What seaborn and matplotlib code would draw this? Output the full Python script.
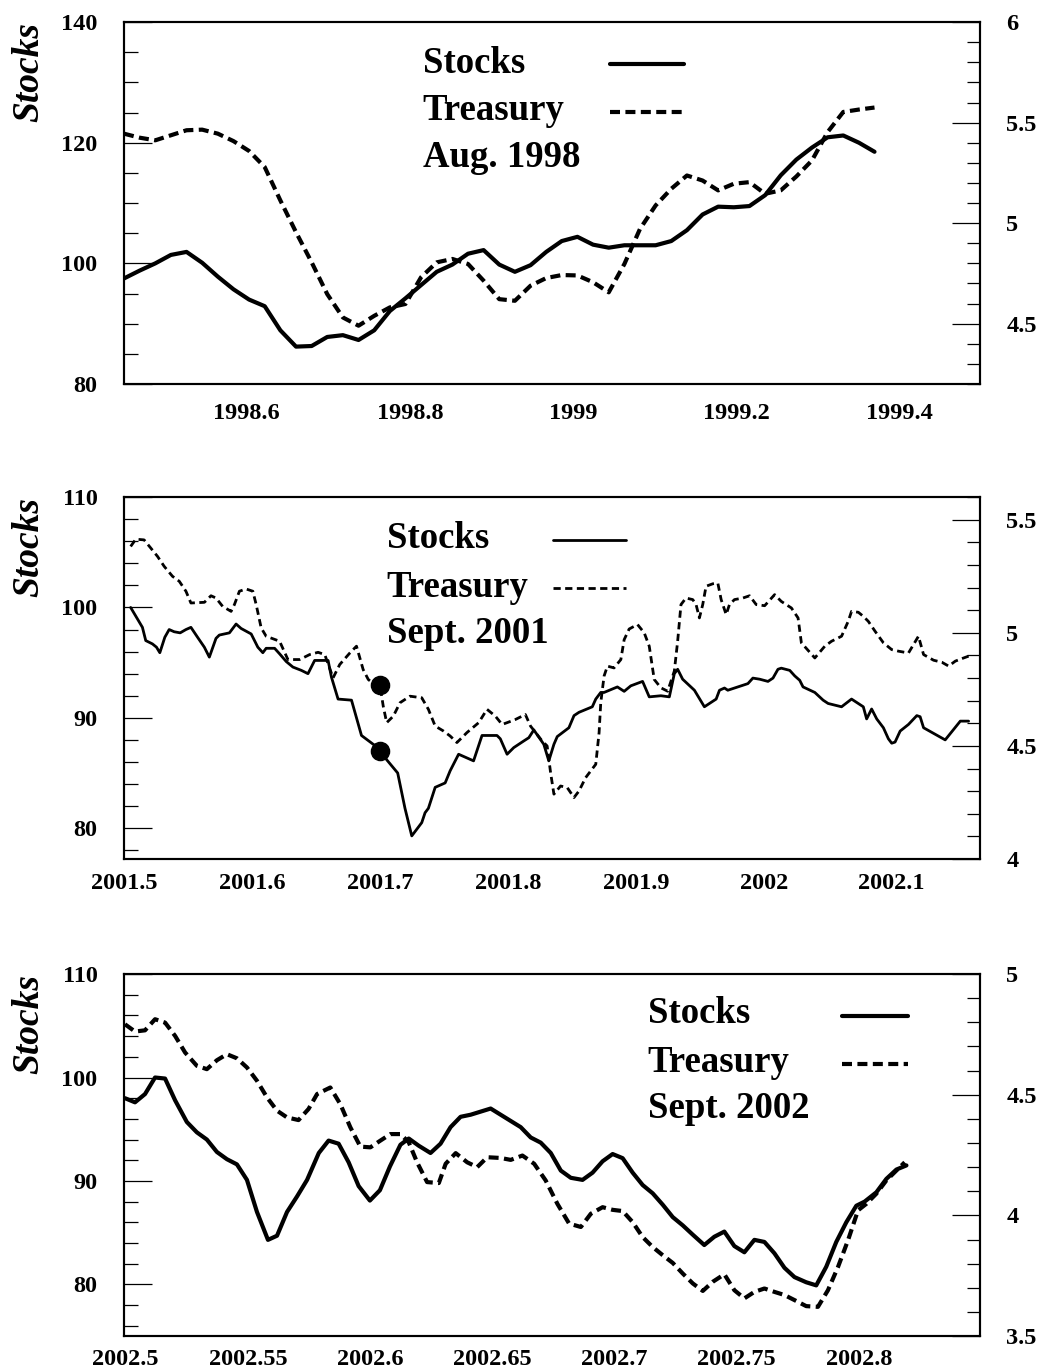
import matplotlib
matplotlib.use('Agg')
import matplotlib.pyplot as plt
from matplotlib.ticker import MultipleLocator, FuncFormatter
import seaborn as sns

# ---- Aug. 1998 (weekly) ----
aug98_x = [1998.4494, 1998.4686, 1998.4878, 1998.5069, 1998.5261, 1998.5453, 1998.5645,
           1998.5837, 1998.6028, 1998.6220, 1998.6412, 1998.6604, 1998.6796, 1998.6987,
           1998.7179, 1998.7371, 1998.7563, 1998.7755, 1998.7946, 1998.8138, 1998.8330,
           1998.8522, 1998.8714, 1998.8905, 1998.9097, 1998.9289, 1998.9481, 1998.9673,
           1998.9864, 1999.0056, 1999.0248, 1999.0440, 1999.0632, 1999.0823, 1999.1015,
           1999.1207, 1999.1399, 1999.1591, 1999.1782, 1999.1974, 1999.2166, 1999.2358,
           1999.2550, 1999.2741, 1999.2933, 1999.3125, 1999.3317, 1999.3509, 1999.3700]
aug98_stocks = [97.5, 98.8, 100.0, 101.4, 101.9, 100.1, 97.8, 95.7, 94.0, 92.9, 88.9, 86.2,
                86.3, 87.8, 88.1, 87.3, 88.9, 92.1, 94.2, 96.4, 98.6, 99.8, 101.6, 102.2,
                99.8, 98.6, 99.7, 101.9, 103.7, 104.4, 103.1, 102.6, 103.0, 103.0, 103.0,
                103.7, 105.5, 108.1, 109.4, 109.3, 109.5, 111.3, 114.6, 117.2, 119.2, 120.9,
                121.2, 120.0, 118.5]
aug98_treasury = [5.445, 5.425, 5.412, 5.437, 5.462, 5.465, 5.445, 5.408, 5.359, 5.279, 5.113,
                  4.955, 4.805, 4.647, 4.531, 4.49, 4.539, 4.581, 4.598, 4.731, 4.805, 4.822,
                  4.797, 4.714, 4.622, 4.614, 4.689, 4.727, 4.742, 4.74, 4.706, 4.656, 4.797,
                  4.971, 5.088, 5.171, 5.237, 5.212, 5.163, 5.196, 5.204, 5.146, 5.163, 5.232,
                  5.312, 5.453, 5.553, 5.565, 5.575]

# ---- Sept. 2001 (daily) ----
sep01_stock_x = [2001.5052, 2001.5144, 2001.5170, 2001.5222, 2001.5254, 2001.5280, 2001.5319,
                 2001.5353, 2001.5392, 2001.5439, 2001.5484, 2001.5523, 2001.5575, 2001.5628,
                 2001.5667, 2001.5719, 2001.5745, 2001.5824, 2001.5850, 2001.5876, 2001.5915,
                 2001.5994, 2001.6046, 2001.6085, 2001.6111, 2001.6177, 2001.6216, 2001.6268,
                 2001.6320, 2001.6386, 2001.6438, 2001.6490, 2001.6530, 2001.6595, 2001.6621,
                 2001.6673, 2001.6778, 2001.6817, 2001.6856, 2001.6948, 2001.7000, 2001.7053,
                 2001.7139, 2001.7196, 2001.7249, 2001.7327, 2001.7353, 2001.7379, 2001.7432,
                 2001.7510, 2001.7549, 2001.7615, 2001.7732, 2001.7798, 2001.7915, 2001.7941,
                 2001.7994, 2001.8046, 2001.8124, 2001.8164, 2001.8203, 2001.8281, 2001.8320,
                 2001.8360, 2001.8386, 2001.8477, 2001.8517, 2001.8556, 2001.8660, 2001.8687,
                 2001.8726, 2001.8752, 2001.8856, 2001.8909, 2001.8961, 2001.9053, 2001.9105,
                 2001.9196, 2001.9262, 2001.9301, 2001.9327, 2001.9366, 2001.9458, 2001.9536,
                 2001.9628, 2001.9654, 2001.9693, 2001.9719, 2001.9876, 2001.9915, 2001.9968,
                 2002.0033, 2002.0072, 2002.0111, 2002.0137, 2002.0203, 2002.0242, 2002.0281,
                 2002.0307, 2002.0399, 2002.0464, 2002.0503, 2002.0608, 2002.0686, 2002.0778,
                 2002.0804, 2002.0843, 2002.0883, 2002.0935, 2002.0974, 2002.1000, 2002.1026,
                 2002.1066, 2002.1131, 2002.1196, 2002.1222, 2002.1249, 2002.1418, 2002.1536,
                 2002.1601]
sep01_stocks = [100.0, 98.2, 97.0, 96.7, 96.4, 95.9, 97.3, 98.0, 97.8, 97.7, 98.0, 98.2, 97.3,
                96.4, 95.5, 97.2, 97.5, 97.7, 98.1, 98.5, 98.1, 97.6, 96.4, 95.9, 96.3, 96.3,
                95.8, 95.1, 94.6, 94.3, 94.0, 95.2, 95.2, 95.2, 93.7, 91.7, 91.6, 90.0, 88.4,
                87.6, 87.2, 86.2, 85.0, 81.8, 79.3, 80.5, 81.4, 81.8, 83.7, 84.1, 85.2, 86.7,
                86.1, 88.4, 88.4, 88.1, 86.7, 87.3, 87.9, 88.2, 88.9, 87.6, 86.1, 87.6, 88.3,
                89.1, 90.2, 90.5, 91.0, 91.7, 92.3, 92.3, 92.8, 92.4, 92.9, 93.3, 91.9, 92.0,
                91.9, 94.0, 94.4, 93.5, 92.5, 91.0, 91.7, 92.5, 92.7, 92.5, 93.1, 93.6, 93.5,
                93.3, 93.6, 94.4, 94.5, 94.3, 93.8, 93.4, 92.8, 92.3, 91.6, 91.3, 91.0, 91.7,
                91.0, 89.9, 90.8, 89.9, 89.1, 88.1, 87.7, 87.8, 88.8, 89.4, 90.2, 90.1, 89.1,
                88.0, 89.7, 89.7]
sep01_treasury_x = [2001.5052, 2001.5092, 2001.5157, 2001.5209, 2001.5262, 2001.5314, 2001.5379,
                    2001.5432, 2001.5484, 2001.5523, 2001.5628, 2001.5680, 2001.5719, 2001.5771,
                    2001.5837, 2001.5863, 2001.5902, 2001.5954, 2001.6007, 2001.6033, 2001.6072,
                    2001.6111, 2001.6216, 2001.6281, 2001.6373, 2001.6451, 2001.6517, 2001.6569,
                    2001.6634, 2001.6686, 2001.6765, 2001.6817, 2001.6869, 2001.6909, 2001.6974,
                    2001.7000, 2001.7026, 2001.7053, 2001.7105, 2001.7157, 2001.7235, 2001.7327,
                    2001.7379, 2001.7432, 2001.7497, 2001.7549, 2001.7602, 2001.7680, 2001.7772,
                    2001.7837, 2001.7902, 2001.7955, 2001.7994, 2001.8059, 2001.8137, 2001.8177,
                    2001.8268, 2001.8307, 2001.8334, 2001.8360, 2001.8412, 2001.8464, 2001.8517,
                    2001.8556, 2001.8608, 2001.8687, 2001.8713, 2001.8726, 2001.8752, 2001.8778,
                    2001.8830, 2001.8883, 2001.8909, 2001.8948, 2001.9013, 2001.9066, 2001.9105,
                    2001.9144, 2001.9196, 2001.9249, 2001.9301, 2001.9327, 2001.9353, 2001.9392,
                    2001.9445, 2001.9471, 2001.9497, 2001.9523, 2001.9549, 2001.9602, 2001.9641,
                    2001.9667, 2001.9706, 2001.9732, 2001.9771, 2001.9837, 2001.9889, 2001.9941,
                    2002.0007, 2002.0085, 2002.0137, 2002.0216, 2002.0268, 2002.0294, 2002.0399,
                    2002.0477, 2002.0530, 2002.0608, 2002.0660, 2002.0686, 2002.0739, 2002.0778,
                    2002.0817, 2002.0870, 2002.0935, 2002.1000, 2002.1053, 2002.1131, 2002.1209,
                    2002.1249, 2002.1327, 2002.1392, 2002.1445, 2002.1497, 2002.1562, 2002.1601]
sep01_treasury = [5.382, 5.414, 5.411, 5.375, 5.338, 5.294, 5.25, 5.228, 5.184, 5.132, 5.135,
                  5.164, 5.154, 5.117, 5.095, 5.125, 5.184, 5.194, 5.184, 5.125, 5.022, 4.985,
                  4.963, 4.882, 4.882, 4.904, 4.914, 4.904, 4.801, 4.86, 4.911, 4.941, 4.838,
                  4.794, 4.764, 4.77, 4.676, 4.603, 4.632, 4.691, 4.72, 4.713, 4.662, 4.588,
                  4.566, 4.544, 4.515, 4.559, 4.603, 4.662, 4.632, 4.595, 4.603, 4.617, 4.639,
                  4.588, 4.522, 4.5, 4.382, 4.287, 4.323, 4.316, 4.272, 4.301, 4.36, 4.419,
                  4.559, 4.691, 4.809, 4.853, 4.845, 4.882, 4.97, 5.017, 5.037, 5.0, 4.941,
                  4.794, 4.757, 4.742, 4.831, 4.963, 5.125, 5.154, 5.147, 5.125, 5.066, 5.125,
                  5.206, 5.217, 5.22, 5.147, 5.081, 5.125, 5.147, 5.154, 5.164, 5.125, 5.12,
                  5.169, 5.139, 5.11, 5.066, 4.956, 4.889, 4.941, 4.963, 4.985, 5.051, 5.095,
                  5.091, 5.073, 5.051, 5.007, 4.956, 4.926, 4.919, 4.911, 4.985, 4.904, 4.879,
                  4.87, 4.853, 4.875, 4.889, 4.897]
sep01_event_x = [2001.7, 2001.7]
sep01_event_y = [93.0, 87.0]

# ---- Sept. 2002 (daily) ----
sep02_stock_x = [2002.4997, 2002.5038, 2002.5079, 2002.5120, 2002.5161, 2002.5202, 2002.5250,
                 2002.5291, 2002.5332, 2002.5373, 2002.5414, 2002.5455, 2002.5496, 2002.5537,
                 2002.5582, 2002.5619, 2002.5660, 2002.5701, 2002.5742, 2002.5790, 2002.5830,
                 2002.5871, 2002.5912, 2002.5953, 2002.5999, 2002.6040, 2002.6081, 2002.6124,
                 2002.6158, 2002.6199, 2002.6247, 2002.6288, 2002.6329, 2002.6370, 2002.6411,
                 2002.6452, 2002.6493, 2002.6534, 2002.6575, 2002.6616, 2002.6657, 2002.6698,
                 2002.6739, 2002.6780, 2002.6821, 2002.6869, 2002.6910, 2002.6951, 2002.6992,
                 2002.7033, 2002.7074, 2002.7115, 2002.7156, 2002.7197, 2002.7238, 2002.7279,
                 2002.7320, 2002.7367, 2002.7408, 2002.7449, 2002.7490, 2002.7531, 2002.7572,
                 2002.7613, 2002.7654, 2002.7695, 2002.7736, 2002.7784, 2002.7825, 2002.7866,
                 2002.7907, 2002.7948, 2002.7989, 2002.8023, 2002.8071, 2002.8112, 2002.8153,
                 2002.8194]
sep02_stocks = [98.0, 97.6, 98.4, 100.0, 99.9, 97.8, 95.7, 94.7, 94.0, 92.8, 92.1, 91.6, 90.1,
                87.0, 84.3, 84.7, 87.0, 88.5, 90.1, 92.7, 93.9, 93.6, 91.8, 89.5, 88.1, 89.1,
                91.4, 93.5, 94.1, 93.4, 92.7, 93.6, 95.2, 96.2, 96.4, 96.7, 97.0, 96.4, 95.8,
                95.2, 94.2, 93.7, 92.7, 91.0, 90.3, 90.1, 90.8, 91.9, 92.6, 92.2, 90.8, 89.6,
                88.8, 87.7, 86.5, 85.7, 84.8, 83.8, 84.6, 85.1, 83.7, 83.1, 84.3, 84.1, 83.0,
                81.6, 80.7, 80.2, 79.9, 81.7, 84.1, 86.0, 87.6, 88.0, 88.9, 90.2, 91.1, 91.5]
sep02_treasury_x = [2002.4997, 2002.5038, 2002.5079, 2002.5120, 2002.5161, 2002.5202, 2002.5243,
                    2002.5291, 2002.5332, 2002.5373, 2002.5414, 2002.5455, 2002.5496, 2002.5537,
                    2002.5578, 2002.5619, 2002.5660, 2002.5707, 2002.5748, 2002.5783, 2002.5837,
                    2002.5878, 2002.5919, 2002.5960, 2002.6001, 2002.6042, 2002.6083, 2002.6124,
                    2002.6158, 2002.6192, 2002.6233, 2002.6281, 2002.6309, 2002.6350, 2002.6397,
                    2002.6438, 2002.6479, 2002.6534, 2002.6575, 2002.6623, 2002.6671, 2002.6718,
                    2002.6766, 2002.6814, 2002.6862, 2002.6903, 2002.6951, 2002.6992, 2002.7033,
                    2002.7074, 2002.7115, 2002.7156, 2002.7197, 2002.7238, 2002.7279, 2002.7320,
                    2002.7361, 2002.7402, 2002.7449, 2002.7490, 2002.7531, 2002.7572, 2002.7613,
                    2002.7654, 2002.7695, 2002.7736, 2002.7784, 2002.7832, 2002.7873, 2002.7914,
                    2002.7955, 2002.7996, 2002.8030, 2002.8071, 2002.8112, 2002.8153, 2002.8187]
sep02_treasury = [4.792, 4.762, 4.767, 4.813, 4.799, 4.744, 4.675, 4.62, 4.606, 4.643, 4.668,
                  4.651, 4.613, 4.558, 4.489, 4.434, 4.406, 4.395, 4.441, 4.503, 4.53, 4.461,
                  4.365, 4.285, 4.282, 4.31, 4.337, 4.337, 4.303, 4.22, 4.138, 4.134, 4.214,
                  4.258, 4.22, 4.2, 4.241, 4.238, 4.23, 4.248, 4.214, 4.145, 4.048, 3.966,
                  3.952, 4.007, 4.034, 4.023, 4.018, 3.972, 3.91, 3.869, 3.835, 3.803, 3.759,
                  3.718, 3.687, 3.725, 3.756, 3.69, 3.656, 3.683, 3.697, 3.683, 3.67, 3.649,
                  3.624, 3.621, 3.69, 3.786, 3.897, 4.021, 4.048, 4.09, 4.145, 4.186, 4.22]

legend_labels = ['Stocks', 'Treasury']

FONT = 26.5
TICKFONT = 17.5


def fmt(v, pos):
    return f'{v:g}'


def draw_panel(fig, rect, p):
    ax = fig.add_axes(rect)
    ax2 = ax.twinx()

    sns.lineplot(x=p['sx'], y=p['sy'], ax=ax, color='black', linewidth=p['lw'],
                 estimator=None, sort=False)
    sns.lineplot(x=p['tx'], y=p['ty'], ax=ax2, color='black', linewidth=p['lw'],
                 linestyle=(0, p['dash']), estimator=None, sort=False)
    if 'ex' in p:
        sns.scatterplot(x=p['ex'], y=p['ey'], ax=ax, color='black', s=170,
                        edgecolor='black', zorder=5)

    ax.set_xlim(p['xlim'])
    ax.set_ylim(p['ylim'])
    ax2.set_ylim(p['ylim2'])

    ax.xaxis.set_major_locator(MultipleLocator(p['xmaj']))
    ax.xaxis.set_minor_locator(MultipleLocator(p['xmin']))
    ax.yaxis.set_major_locator(MultipleLocator(p['ymaj']))
    ax.yaxis.set_minor_locator(MultipleLocator(p['ymin']))
    ax2.yaxis.set_major_locator(MultipleLocator(0.5))
    ax2.yaxis.set_minor_locator(MultipleLocator(0.1))
    for a in (ax.xaxis, ax.yaxis, ax2.yaxis):
        a.set_major_formatter(FuncFormatter(fmt))

    ax.tick_params(which='both', direction='in', top=False, right=False, width=0.9,
                   color='black')
    ax.tick_params(which='major', length=20, labelsize=TICKFONT)
    ax.tick_params(which='minor', length=10)
    ax.tick_params(axis='y', which='major', pad=19)
    ax.tick_params(axis='x', which='major', pad=p['xpad'])
    ax2.tick_params(axis='y', which='both', direction='in', left=False, right=True,
                    width=0.9, color='black')
    ax2.tick_params(axis='y', which='major', length=20, pad=19, labelsize=TICKFONT)
    ax2.tick_params(axis='y', which='minor', length=9.5)

    ax.set_xlabel('')
    ax2.set_ylabel('')
    ax.set_ylabel('Stocks', loc='top', fontsize=27, fontstyle='italic',
                  fontweight='bold', labelpad=11)

    for sp in ax.spines.values():
        sp.set_linewidth(1.5)
        sp.set_color('black')
    for sp in ax2.spines.values():
        sp.set_linewidth(1.5)
        sp.set_color('black')

    handles = [ax.get_lines()[0], ax2.get_lines()[0]]
    ax2.legend(handles, ['', ''], loc='center left', bbox_to_anchor=p['leg_anchor'],
               frameon=False, fontsize=FONT, handlelength=p['hl'], handletextpad=0,
               borderpad=0, borderaxespad=0, labelspacing=0.35)
    texts = legend_labels + [p['title']]
    for t, yy in zip(texts, p['text_y']):
        ax2.text(p['text_x'], yy, t, transform=ax2.transAxes, fontsize=FONT,
                 fontweight='bold', ha='left', va='baseline')


def main():
    sns.set_theme(style='white')
    plt.rcParams['font.family'] = ['Liberation Serif', 'DejaVu Serif']
    plt.rcParams['font.weight'] = 'bold'
    plt.rcParams.update({'text.color': 'black', 'axes.labelcolor': 'black',
                         'xtick.color': 'black', 'ytick.color': 'black'})

    fig = plt.figure(figsize=(10.42, 13.71), dpi=100)

    panels = [
        dict(sx=aug98_x, sy=aug98_stocks, tx=aug98_x, ty=aug98_treasury,
             lw=3.0, dash=(2.4, 1.3), xlim=(1998.4494, 1999.4994), ylim=(80, 140),
             ylim2=(4.2, 6.0), xmaj=0.2, xmin=0.2 / 3, ymaj=20, ymin=5, xpad=14,
             title='Aug. 1998', text_x=0.349, text_y=[0.859, 0.729, 0.599],
             leg_anchor=(0.568, 0.808), hl=2.0),
        dict(sx=sep01_stock_x, sy=sep01_stocks, tx=sep01_treasury_x, ty=sep01_treasury,
             ex=sep01_event_x, ey=sep01_event_y,
             lw=2.0, dash=(2.6, 1.6), xlim=(2001.5, 2002.169), ylim=(77.2, 110),
             ylim2=(4.0, 5.6), xmaj=0.1, xmin=0.025, ymaj=10, ymin=2, xpad=10,
             title='Sept. 2001', text_x=0.307, text_y=[0.859, 0.723, 0.596],
             leg_anchor=(0.501, 0.806), hl=2.0),
        dict(sx=sep02_stock_x, sy=sep02_stocks, tx=sep02_treasury_x, ty=sep02_treasury,
             lw=3.0, dash=(2.4, 1.3), xlim=(2002.4993, 2002.8495), ylim=(75, 110),
             ylim2=(3.5, 5.0), xmaj=0.05, xmin=0.025, ymaj=10, ymin=2, xpad=9,
             title='Sept. 2002', text_x=0.612, text_y=[0.865, 0.729, 0.602],
             leg_anchor=(0.839, 0.809), hl=1.8),
    ]
    rects = [(0.119, 0.7199, 0.8215, 0.2640),
             (0.119, 0.3734, 0.8215, 0.2640),
             (0.119, 0.0255, 0.8215, 0.2640)]

    for rect, p in zip(rects, panels):
        draw_panel(fig, rect, p)

    fig.savefig('out.png', dpi=100, facecolor='white')


if __name__ == '__main__':
    main()
